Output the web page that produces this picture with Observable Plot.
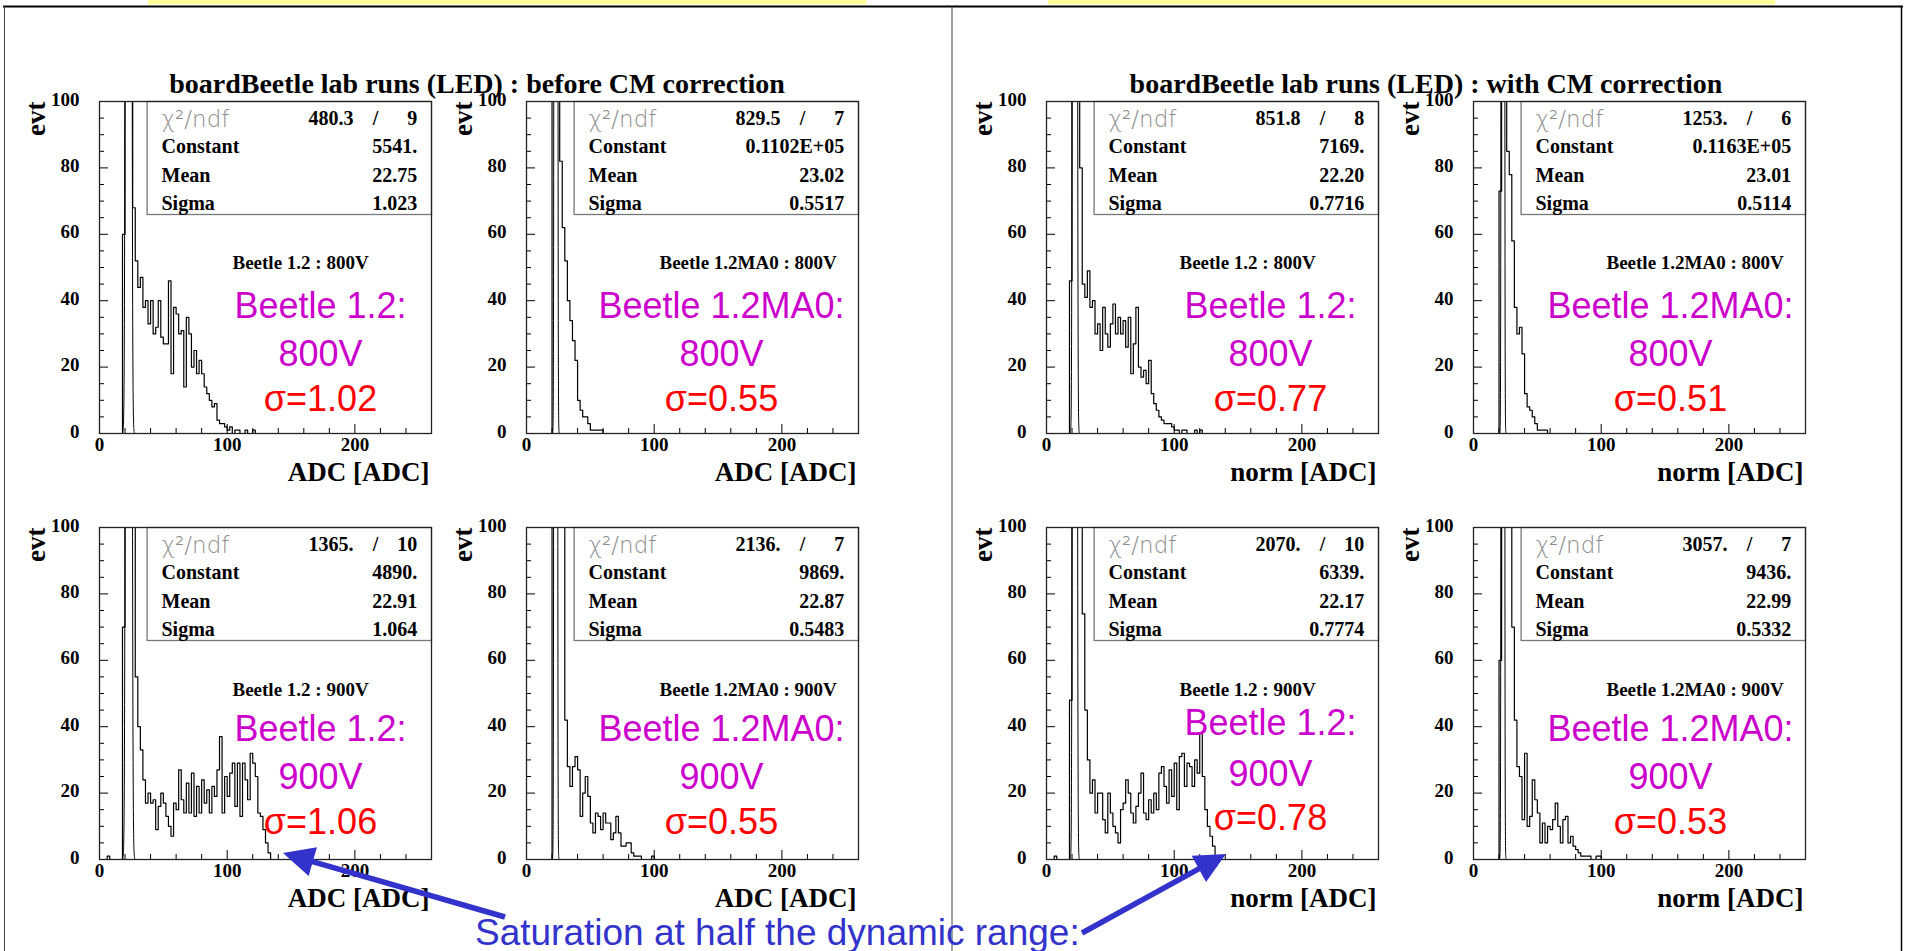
<!DOCTYPE html>
<html>
<head>
<meta charset="utf-8">
<script src="https://cdn.jsdelivr.net/npm/d3@7"></script>
<script src="https://cdn.jsdelivr.net/npm/@observablehq/plot@0.6"></script>
<style>
  body { margin: 0; background: #fff; }
  #page { position: relative; width: 1906px; height: 951px; overflow: hidden; background: #fff; }
  .panel { position: absolute; }
</style>
</head>
<body>
<div id="page"></div>
<script>
// ---------------- DATA ----------------
// Histogram contents, bins of width 2 starting at 0 (ADC)
const BIN_WIDTH = 2;
const histBefore12_800 = [0,0,0,0,0,0,0,0,0, 60,1000,2000,600, 68,52,44,47,38,40,33,40,30,32,40,29,27,27,46,18,38,36,30,31,14,35,30,20,25,18,22,18,14,12,10,8,9,4,3,3,2,1,2,0,1,1,0,0,1,0,0,1,0];
const histBeforeMA0_800 = [0,0,0,0,0,0,0,0,0, 0,800,3000,200, 82,62,52,40,34,28,22,10,7,5,5,3,1,1,1,1,1,0];
const histWith12_800 = [0,0,0,0,0,0,0,0,0, 46,900,1500,200, 80,45,41,49,38,40,30,33,25,38,30,26,33,39,30,35,30,34,26,35,18,27,38,20,17,19,15,22,12,9,7,5,4,3,3,3,2,1,1,0,1,1,0,0,0,1,0,1,0];
const histWithMA0_800 = [0,0,0,0,0,0,0,0,0, 0,73,3000,300, 85,78,58,38,30,32,24,12,8,7,5,3,1,1,1,1,0];
const histBefore12_900 = [0,0,0,1,0,0,0,0,0, 70,800,1500,600, 150,55,40,33,24,17,20,17,18,9,16,20,17,13,10,7,17,15,27,18,14,23,14,26,13,22,14,24,17,21,14,22,19,27,37,14,25,19,26,29,16,29,13,29,24,18,32,29,25,14,13,9,5,2,0];
const histBeforeMA0_900 = [0,0,0,0,0,0,0,0,0, 0,400,3000,400, 200,110,42,28,22,28,31,27,13,20,25,19,11,8,14,13,9,14,11,11,6,8,13,8,4,4,5,5,2,1,1,1,0,0,0,0,1,0];
const histWith12_900 = [0,0,0,1,0,0,0,0,0, 48,900,1500,600, 200,74,45,30,20,24,14,20,20,12,8,20,14,10,8,5,15,17,24,20,14,11,16,20,26,14,12,18,14,20,15,26,28,22,17,27,19,29,15,31,32,22,29,28,22,30,26,38,25,15,10,7,4,1,0];
const histWithMA0_900 = [0,0,0,0,0,0,0,0,0, 0,60,3000,600, 200,120,70,42,28,25,12,32,10,13,24,18,14,5,11,5,10,9,12,17,10,5,12,13,5,7,4,3,2,1,1,1,1,0,0,1,1,0];

const hists = [histBefore12_800, histBeforeMA0_800, histWith12_800, histWithMA0_800,
               histBefore12_900, histBeforeMA0_900, histWith12_900, histWithMA0_900];

// Gaussian fit results (as printed in the stat boxes)
const fitConstant = [5541, 11020, 7169, 11630, 4890, 9869, 6339, 9436];
const fitMean = [22.75, 23.02, 22.20, 23.01, 22.91, 22.87, 22.17, 22.99];
const fitSigma = [1.023, 0.5517, 0.7716, 0.5114, 1.064, 0.5483, 0.7774, 0.5332];

// Stat box strings
const chi2Text = ["480.3", "829.5", "851.8", "1253.", "1365.", "2136.", "2070.", "3057."];
const ndfText = ["9", "7", "8", "6", "10", "7", "10", "7"];
const constantText = ["5541.", "0.1102E+05", "7169.", "0.1163E+05", "4890.", "9869.", "6339.", "9436."];
const meanText = ["22.75", "23.02", "22.20", "23.01", "22.91", "22.87", "22.17", "22.99"];
const sigmaText = ["1.023", "0.5517", "0.7716", "0.5114", "1.064", "0.5483", "0.7774", "0.5332"];

// Panel texts
const panelLabels = ["Beetle 1.2 : 800V", "Beetle 1.2MA0 : 800V", "Beetle 1.2 : 800V", "Beetle 1.2MA0 : 800V",
                     "Beetle 1.2 : 900V", "Beetle 1.2MA0 : 900V", "Beetle 1.2 : 900V", "Beetle 1.2MA0 : 900V"];
const xTitles = ["ADC [ADC]", "ADC [ADC]", "norm [ADC]", "norm [ADC]", "ADC [ADC]", "ADC [ADC]", "norm [ADC]", "norm [ADC]"];
const yTitle = "evt";
const noteChip = ["Beetle 1.2:", "Beetle 1.2MA0:", "Beetle 1.2:", "Beetle 1.2MA0:", "Beetle 1.2:", "Beetle 1.2MA0:", "Beetle 1.2:", "Beetle 1.2MA0:"];
const noteVolt = ["800V", "800V", "800V", "800V", "900V", "900V", "900V", "900V"];
const noteSigma = ["σ=1.02", "σ=0.55", "σ=0.77", "σ=0.51", "σ=1.06", "σ=0.55", "σ=0.78", "σ=0.53"];
const titles = ["boardBeetle lab runs (LED) : before CM correction", "boardBeetle lab runs (LED) : with CM correction"];
const saturationNote = "Saturation at half the dynamic range:";

// Axis ticks
const xTickLabels = [0, 100, 200];
const xMinorTicks = [20, 40, 60, 80, 120, 140, 160, 180, 220, 240];
const yTickLabels = [0, 20, 40, 60, 80, 100];
const yMinorTicks = [5, 10, 15, 25, 30, 35, 45, 50, 55, 65, 70, 75, 85, 90, 95];

// ---------------- LAYOUT / STYLE ----------------
const FRAME = 332;
const frameLefts = [99, 525.7, 1046, 1473.3];
const frameTops = [101, 527.3];
const ML = 95, MR = 15, MT = 25, MB = 75;
const SERIF = "Liberation Serif, 'Times New Roman', serif";
const SANS = "Liberation Sans, Arial, Helvetica, sans-serif";
const noteDx = [221, 195, 224, 197, 221, 195, 224, 197];
const noteDy = [[191, 239, 284], [191, 239, 284], [191, 239, 284], [191, 239, 284],
                [188, 236, 281], [188, 236, 281], [182, 233, 277], [188, 236, 281]];

const page = document.getElementById("page");

function one(s) { return [s]; }

function panel(i) {
  const col = i % 4, row = Math.floor(i / 4);
  const bins = hists[i].map((c, k) => ({x: k * BIN_WIDTH, y: c}));
  const fit = d3.range(0, 201).map(k => {
    const x = fitMean[i] + fitSigma[i] * (-5 + k * 0.05);
    return {x, y: fitConstant[i] * Math.exp(-0.5 * ((x - fitMean[i]) / fitSigma[i]) ** 2)};
  });
  const tb = {frameAnchor: "top-left", fontFamily: SERIF, fontWeight: "bold", fontSize: 20, fill: "#000"};
  const rowsDy = [9, 37, 66, 94];
  const svg = Plot.plot({
    width: FRAME + ML + MR,
    height: FRAME + MT + MB,
    marginLeft: ML, marginRight: MR, marginTop: MT, marginBottom: MB,
    x: {domain: [0, 260], axis: null},
    y: {domain: [0, 100], axis: null},
    style: {background: "transparent", overflow: "visible", maxWidth: "none"},
    marks: [
      Plot.line(bins, {x: "x", y: "y", curve: "step-after", stroke: "#000", strokeWidth: 1.2, clip: true}),
      Plot.line(fit, {x: "x", y: "y", stroke: "#000", strokeWidth: 1, clip: true}),
      // stat box
      Plot.frame({fill: "#fff", stroke: "#777", strokeWidth: 1.3, insetLeft: 47.6, insetBottom: FRAME - 113}),
      Plot.text(one("χ²/ndf"), {frameAnchor: "top-left", dx: 62, dy: rowsDy[0], text: d => d, textAnchor: "start",
        fontFamily: "DejaVu Sans, sans-serif", fontWeight: 200, fontSize: 23, fill: "#8c8c8c"}),
      Plot.text(one(chi2Text[i]), {...tb, dx: 254, dy: rowsDy[0], text: d => d, textAnchor: "end"}),
      Plot.text(one("/"), {...tb, dx: 276, dy: rowsDy[0], text: d => d, textAnchor: "middle"}),
      Plot.text(one(ndfText[i]), {...tb, dx: 317.7, dy: rowsDy[0], text: d => d, textAnchor: "end"}),
      Plot.text(one("Constant"), {...tb, dx: 62, dy: rowsDy[1], text: d => d, textAnchor: "start"}),
      Plot.text(one("Mean"), {...tb, dx: 62, dy: rowsDy[2], text: d => d, textAnchor: "start"}),
      Plot.text(one("Sigma"), {...tb, dx: 62, dy: rowsDy[3], text: d => d, textAnchor: "start"}),
      Plot.text(one(constantText[i]), {...tb, dx: 317.7, dy: rowsDy[1], text: d => d, textAnchor: "end"}),
      Plot.text(one(meanText[i]), {...tb, dx: 317.7, dy: rowsDy[2], text: d => d, textAnchor: "end"}),
      Plot.text(one(sigmaText[i]), {...tb, dx: 317.7, dy: rowsDy[3], text: d => d, textAnchor: "end"}),
      // ticks (inside the frame)
      Plot.tickX(xMinorTicks, {x: d => d, insetTop: FRAME - 5, stroke: "#000", strokeWidth: 1}),
      Plot.tickX(xTickLabels, {x: d => d, insetTop: FRAME - 9, stroke: "#000", strokeWidth: 1}),
      Plot.tickY(yMinorTicks, {y: d => d, insetRight: FRAME - 5, stroke: "#000", strokeWidth: 1}),
      Plot.tickY(yTickLabels, {y: d => d, insetRight: FRAME - 9, stroke: "#000", strokeWidth: 1}),
      Plot.frame({stroke: "#222", strokeWidth: 1.3}),
      // tick labels
      Plot.text(xTickLabels, {x: d => d, text: d => String(d), frameAnchor: "bottom", dy: 17,
        fontFamily: SERIF, fontWeight: "bold", fontSize: 19, fill: "#000"}),
      Plot.text(yTickLabels, {y: d => d, text: d => String(d), frameAnchor: "left", dx: -20, dy: -2, textAnchor: "end",
        fontFamily: SERIF, fontWeight: "bold", fontSize: 19, fill: "#000"}),
      // axis titles
      Plot.text(one(xTitles[i]), {frameAnchor: "bottom-right", dx: -2, dy: 47, text: d => d, textAnchor: "end",
        fontFamily: SERIF, fontWeight: "bold", fontSize: 27, fill: "#000"}),
      Plot.text(one(yTitle), {frameAnchor: "top-left", dx: -73.5, dy: 0, rotate: -90, text: d => d, textAnchor: "end",
        fontFamily: SERIF, fontWeight: "bold", fontSize: 27, fill: "#000"}),
      // histogram label
      Plot.text(one(panelLabels[i]), {frameAnchor: "top-left", dx: 133, dy: row === 0 ? 154 : 155, text: d => d, textAnchor: "start",
        fontFamily: SERIF, fontWeight: "bold", fontSize: 19, fill: "#000"}),
      // slide annotations
      Plot.text(one(noteChip[i]), {frameAnchor: "top-left", dx: noteDx[i], dy: noteDy[i][0], text: d => d, textAnchor: "middle",
        fontFamily: SANS, fontSize: 36, fill: "#cc00cc"}),
      Plot.text(one(noteVolt[i]), {frameAnchor: "top-left", dx: noteDx[i], dy: noteDy[i][1], text: d => d, textAnchor: "middle",
        fontFamily: SANS, fontSize: 36, fill: "#cc00cc"}),
      Plot.text(one(noteSigma[i]), {frameAnchor: "top-left", dx: noteDx[i], dy: noteDy[i][2], text: d => d, textAnchor: "middle",
        fontFamily: SANS, fontSize: 36, fill: "#ff0000"})
    ]
  });
  const div = document.createElement("div");
  div.className = "panel";
  div.style.left = (frameLefts[col] - ML) + "px";
  div.style.top = (frameTops[row] - MT) + "px";
  div.style.width = (FRAME + ML + MR) + "px";
  div.appendChild(svg);
  page.appendChild(div);
}

for (let i = 0; i < 8; i++) panel(i);

// ---------------- SLIDE DECORATION ----------------
const deco = d3.create("svg")
  .attr("width", 1906).attr("height", 951)
  .style("position", "absolute").style("left", "0px").style("top", "0px");

deco.append("rect").attr("x", 148).attr("y", 0).attr("width", 718).attr("height", 4.5).attr("fill", "#ffff99");
deco.append("rect").attr("x", 1048).attr("y", 0).attr("width", 727).attr("height", 4.5).attr("fill", "#ffff99");
deco.append("line").attr("x1", 3).attr("x2", 1903).attr("y1", 6.5).attr("y2", 6.5).attr("stroke", "#000").attr("stroke-width", 2);
deco.append("line").attr("x1", 4.5).attr("x2", 4.5).attr("y1", 6).attr("y2", 951).attr("stroke", "#444").attr("stroke-width", 1);
deco.append("line").attr("x1", 952).attr("x2", 952).attr("y1", 6).attr("y2", 951).attr("stroke", "#444").attr("stroke-width", 1);
deco.append("line").attr("x1", 1901.5).attr("x2", 1901.5).attr("y1", 6).attr("y2", 951).attr("stroke", "#000").attr("stroke-width", 1.5);

deco.append("text").attr("x", 477).attr("y", 93).attr("text-anchor", "middle")
  .attr("font-family", SERIF).attr("font-weight", "bold").attr("font-size", 28).text(titles[0]);
deco.append("text").attr("x", 1426).attr("y", 93).attr("text-anchor", "middle")
  .attr("font-family", SERIF).attr("font-weight", "bold").attr("font-size", 28).text(titles[1]);

function arrow(tail, tip) {
  const dx = tip[0] - tail[0], dy = tip[1] - tail[1];
  const len = Math.hypot(dx, dy), ux = dx / len, uy = dy / len;
  const headLen = 31, half = 15;
  const bx = tip[0] - ux * headLen, by = tip[1] - uy * headLen;
  deco.append("line").attr("x1", tail[0]).attr("y1", tail[1]).attr("x2", bx + ux * 2).attr("y2", by + uy * 2)
    .attr("stroke", "#3333cc").attr("stroke-width", 5.5);
  deco.append("polygon")
    .attr("points", [[tip[0], tip[1]], [bx - uy * half, by + ux * half], [bx + uy * half, by - ux * half]].map(p => p.join(",")).join(" "))
    .attr("fill", "#3333cc");
}
arrow([505, 917], [283, 853]);
arrow([1082, 933], [1226, 854]);

deco.append("text").attr("x", 475).attr("y", 945).attr("font-family", SANS).attr("font-size", 37)
  .attr("fill", "#3333cc").text(saturationNote);

page.appendChild(deco.node());
</script>
</body>
</html>
